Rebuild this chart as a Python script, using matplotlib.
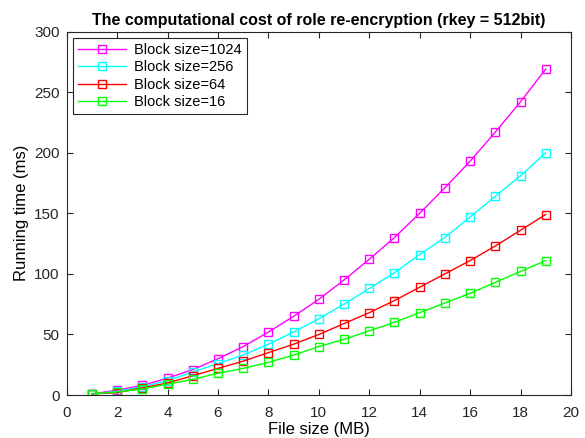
import matplotlib
matplotlib.use("Agg")
import matplotlib.pyplot as plt

plt.rcParams['font.family'] = ['Liberation Sans', 'DejaVu Sans']

file_size = list(range(1, 20))
block_1024 = [1, 4, 8, 14, 21, 30, 40, 52, 65, 79, 95, 112, 130, 150, 171, 193, 217, 242, 269]
block_256 = [1, 3, 7, 12, 19, 26, 33, 42, 52, 63, 75, 88, 101, 116, 130, 147, 164, 181, 200]
block_64 = [1, 2, 6, 10, 16, 22, 28, 35, 42, 50, 59, 68, 78, 89, 100, 111, 123, 136, 149]
block_16 = [1, 2.5, 5, 9, 13, 18, 22, 27, 33, 40, 46, 53, 60, 68, 76, 84, 93, 102, 111]

labels = ["Block size=1024", "Block size=256", "Block size=64", "Block size=16"]
colors = ["#ff00ff", "#00ffff", "#ff0000", "#00ff00"]

fig = plt.figure(figsize=(5.85, 4.38), dpi=100)
ax = fig.add_axes([0.114, 0.098, 0.862, 0.830])

for ys, lab, c in zip([block_1024, block_256, block_64, block_16], labels, colors):
    ax.plot(file_size, ys, color=c, marker="s", markersize=6,
            markerfacecolor="none", markeredgewidth=1, linewidth=1, label=lab)

ax.set_xlim(0, 20)
ax.set_ylim(0, 300)
ax.set_xticks(range(0, 21, 2))
ax.set_yticks(range(0, 301, 50))
ax.tick_params(direction="in", top=True, right=True, labelsize=11, length=4,
               colors="#262626")
ax.tick_params(axis="x", pad=8)
ax.tick_params(axis="y", pad=5)
for s in ax.spines.values():
    s.set_color("#262626")
    s.set_linewidth(0.8)

ax.set_xlabel("File size (MB)", fontsize=12, labelpad=1)
ax.set_ylabel("Running time (ms)", fontsize=12)
ax.set_title("The computational cost of role re-encryption (rkey = 512bit)",
             fontsize=11.5, fontweight="bold", pad=5)

leg = ax.legend(loc="upper left", fontsize=10.5, fancybox=False,
                edgecolor="#262626", framealpha=1, handlelength=3.3,
                handletextpad=0.5, borderpad=0.35, labelspacing=0.22,
                borderaxespad=0.45)
leg.get_frame().set_linewidth(0.8)

fig.savefig("out.png", dpi=100)
